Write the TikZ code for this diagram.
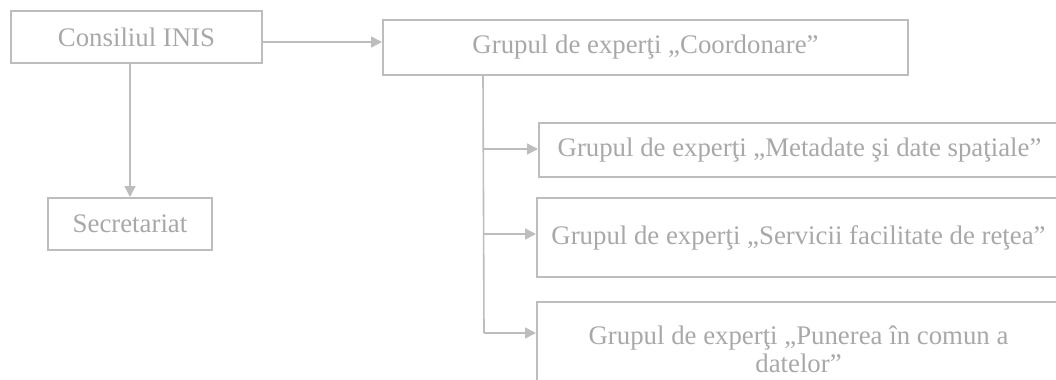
\documentclass[tikz,border=0pt]{standalone}
\usepackage{fontspec}
\setmainfont{Liberation Serif}
\usetikzlibrary{arrows.meta}

\definecolor{boxgray}{HTML}{BDBDBD}
\definecolor{txtgray}{HTML}{A8A8A8}

\begin{document}
\begin{tikzpicture}[x=0.5pt, y=-0.5pt,
  every node/.style={rectangle, draw=boxgray, line width=1pt, text=txtgray,
    font=\fontsize{13.4}{14}\selectfont, inner sep=0pt},
  arr/.style={draw=boxgray, line width=0.8pt, -{Triangle[length=5.5pt,width=5.5pt]}}]

  \useasboundingbox (0,0) rectangle (1056,380);
  \clip (0,0) rectangle (1056,380);

  \node[minimum width=125.5pt, minimum height=26pt] (cons) at (136.5,37) {Consiliul INIS};
  \node[minimum width=262.5pt, minimum height=27.5pt] (coord) at (645.5,47.5) {Grupul de experţi „Coordonare”};
  \node[minimum width=82pt, minimum height=26pt] (secr) at (130,224) {Secretariat};

  \node[minimum width=260.5pt, minimum height=27pt] (meta) at (799.5,150) {Grupul de experţi „Metadate şi date spaţiale”};
  \node[minimum width=261.5pt, minimum height=39.5pt] (serv) at (798.5,237.5) {Grupul de experţi „Servicii facilitate de reţea”};
  \node[minimum width=261.5pt, minimum height=47pt, align=center] (pun) at (798.5,349) {Grupul de experţi „Punerea în comun a\\ datelor”};

  \draw[arr] ([yshift=-2.5pt]cons.east) -- ([yshift=-2.5pt]cons.east -| coord.west);
  \draw[arr] (cons.south -| secr.north) -- (secr.north);

  % trunk under the coordination group
  \coordinate (tr) at ([xshift=50.5pt]coord.south west);
  \coordinate (b1) at (484,149);
  \coordinate (b2) at (484,234);
  \coordinate (b3) at (484,333);
  \draw[draw=boxgray, line width=0.8pt] (tr) -- (b3);
  \draw[arr] (b1) -- (b1 -| meta.west);
  \draw[arr] (b2) -- (b2 -| serv.west);
  \draw[arr] (b3) -- (b3 -| pun.west);

\end{tikzpicture}
\end{document}
